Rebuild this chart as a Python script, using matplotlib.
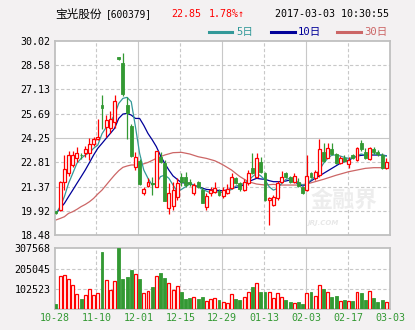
import numpy as np
import matplotlib
matplotlib.use("Agg")
import matplotlib.pyplot as plt
from matplotlib.lines import Line2D

plt.rcParams['font.family'] = ['DejaVu Sans Mono', 'Noto Sans CJK SC', 'DejaVu Sans']

# daily candles, 80 sessions from 10-28 to 03-03
opens = [19.90, 19.98, 21.66, 22.15, 22.65, 23.04, 23.26, 23.34, 23.34, 23.90,
         24.17, 26.20, 24.88, 24.82, 25.22, 29.05, 28.72, 26.20, 24.96, 22.55,
         22.90, 20.98, 21.42, 21.60, 21.36, 23.15, 22.79, 20.08, 20.20, 20.73,
         21.96, 21.96, 21.66, 20.97, 21.66, 21.16, 20.17, 20.97, 21.07, 21.12,
         20.83, 20.97, 21.26, 21.86, 21.60, 21.16, 21.56, 22.50, 21.96, 22.80,
         22.15, 20.57, 20.27, 20.67, 21.66, 22.15, 21.96, 21.66, 21.66, 21.36,
         21.16, 22.15, 21.86, 22.06, 23.40, 23.08, 23.60, 23.30, 22.75, 23.04,
         22.70, 23.24, 22.94, 23.93, 23.44, 22.98, 23.58, 23.44, 23.24, 22.45]
closes = [19.78, 21.66, 22.39, 23.24, 23.24, 23.34, 23.22, 23.58, 23.87, 24.17,
          24.33, 26.05, 25.32, 25.36, 26.44, 28.92, 26.86, 25.75, 23.20, 23.10,
          21.50, 21.20, 21.66, 21.52, 23.48, 22.85, 20.53, 20.97, 21.16, 21.56,
          21.66, 21.46, 21.52, 21.46, 21.33, 20.41, 20.80, 21.16, 21.26, 20.86,
          21.16, 21.20, 21.96, 21.56, 21.20, 21.66, 22.19, 22.20, 23.04, 22.25,
          20.57, 20.71, 20.77, 21.56, 21.96, 21.92, 21.66, 22.02, 21.40, 21.00,
          21.99, 21.96, 22.25, 23.60, 22.90, 23.67, 23.30, 22.75, 23.08, 22.90,
          22.94, 23.04, 23.64, 23.60, 23.04, 23.64, 23.44, 23.30, 22.45, 22.85]
highs = [19.95, 21.70, 23.24, 23.50, 23.48, 23.70, 23.34, 23.77, 24.23, 24.33,
         25.38, 26.80, 25.61, 25.85, 26.80, 29.06, 29.31, 26.70, 25.10, 23.44,
         23.00, 21.36, 21.86, 21.95, 23.50, 23.44, 22.95, 21.56, 21.66, 21.86,
         22.20, 22.25, 21.80, 21.60, 21.70, 21.36, 20.97, 21.36, 21.66, 21.20,
         21.36, 21.52, 22.20, 21.96, 21.66, 21.80, 22.35, 23.38, 23.38, 23.10,
         22.25, 20.77, 20.87, 21.70, 22.30, 22.25, 22.00, 22.20, 21.86, 21.40,
         23.24, 22.25, 22.35, 24.19, 23.93, 23.93, 23.93, 23.38, 23.18, 23.24,
         23.14, 23.30, 23.74, 24.13, 23.64, 23.74, 23.74, 23.54, 23.34, 23.04]
lows = [19.72, 19.95, 21.16, 22.00, 22.55, 22.85, 22.98, 23.14, 22.94, 23.77,
        24.13, 24.76, 24.33, 24.52, 24.82, 28.88, 26.74, 24.17, 23.15, 22.35,
        21.45, 20.85, 21.36, 20.85, 21.33, 22.75, 20.50, 19.72, 20.00, 20.57,
        21.40, 21.36, 21.40, 20.86, 21.30, 20.37, 19.98, 20.83, 20.97, 20.80,
        20.67, 20.93, 21.20, 21.52, 21.10, 21.10, 21.46, 22.10, 21.86, 22.15,
        20.50, 19.09, 20.21, 20.60, 21.60, 21.86, 21.60, 21.56, 21.36, 20.93,
        21.10, 21.90, 21.76, 21.96, 22.84, 23.04, 23.24, 22.70, 22.70, 22.84,
        22.50, 23.00, 22.90, 23.50, 23.00, 22.94, 23.30, 23.18, 22.39, 22.39]
volumes = [25000, 167000, 172000, 150000, 122000, 76000, 51000, 71000, 100000, 71000,
           83000, 289000, 147000, 96000, 142000, 307500, 152000, 162000, 198000, 177000,
           152000, 83000, 91000, 112000, 167000, 183000, 157000, 131000, 96000, 116000,
           86000, 51000, 56000, 60000, 51000, 61000, 41000, 51000, 54000, 46000,
           35000, 30000, 74000, 51000, 46000, 59000, 85000, 112000, 130000, 86000,
           86000, 86000, 54000, 81000, 59000, 46000, 35000, 29000, 35000, 25000,
           79000, 86000, 66000, 120000, 101000, 85000, 61000, 66000, 39000, 46000,
           39000, 41000, 85000, 81000, 46000, 90000, 56000, 35000, 46000, 34000]

ma5 = [19.78, 20.18, 20.77, 21.56, 22.15, 22.75, 23.04, 23.24, 23.38, 23.64,
       23.83, 24.50, 24.88, 25.22, 25.61, 26.30, 26.60, 26.66, 26.40, 24.92,
       23.34, 22.35, 21.86, 21.46, 21.56, 21.96, 22.05, 21.86, 21.46, 21.07,
       21.20, 21.36, 21.52, 21.46, 21.36, 21.20, 21.10, 21.00, 21.03, 21.07,
       21.00, 21.10, 21.20, 21.40, 21.46, 21.56, 21.72, 21.96, 22.15, 22.00,
       21.76, 21.36, 21.16, 21.26, 21.56, 21.80, 21.86, 21.80, 21.60, 21.46,
       21.52, 21.76, 21.96, 22.35, 22.75, 23.04, 23.24, 23.24, 23.18, 23.10,
       23.04, 23.08, 23.18, 23.30, 23.24, 23.24, 23.30, 23.30, 23.24, 23.18]
ma10 = [19.78, 20.08, 20.37, 20.77, 21.16, 21.56, 21.95, 22.35, 22.79, 23.24,
        23.64, 23.93, 24.23, 24.52, 24.82, 25.41, 25.67, 25.71, 25.61, 25.41,
        25.41, 25.00, 24.52, 24.15, 23.74, 23.20, 22.75, 22.35, 22.00, 21.80,
        21.60, 21.58, 21.56, 21.45, 21.36, 21.28, 21.20, 21.18, 21.16, 21.14,
        21.12, 21.18, 21.26, 21.32, 21.36, 21.50, 21.66, 21.76, 21.86, 21.82,
        21.80, 21.72, 21.66, 21.66, 21.66, 21.70, 21.76, 21.66, 21.52, 21.40,
        21.52, 21.70, 21.86, 22.00, 22.15, 22.30, 22.45, 22.60, 22.75, 22.85,
        22.94, 23.06, 23.18, 23.22, 23.24, 23.24, 23.24, 23.24, 23.24, 23.20]
ma30 = [19.39, 19.48, 19.58, 19.78, 19.88, 20.02, 20.18, 20.31, 20.47, 20.67,
        20.93, 21.16, 21.46, 21.76, 22.05, 22.31, 22.51, 22.59, 22.65, 22.65,
        22.65, 22.72, 22.80, 22.92, 23.04, 23.14, 23.24, 23.31, 23.38, 23.39,
        23.40, 23.35, 23.30, 23.22, 23.14, 23.09, 23.04, 22.97, 22.90, 22.78,
        22.65, 22.50, 22.35, 22.15, 21.96, 21.81, 21.66, 21.59, 21.52, 21.49,
        21.46, 21.48, 21.50, 21.48, 21.46, 21.46, 21.46, 21.46, 21.46, 21.49,
        21.52, 21.59, 21.66, 21.73, 21.80, 21.88, 21.96, 22.04, 22.11, 22.18,
        22.25, 22.30, 22.35, 22.40, 22.45, 22.47, 22.49, 22.49, 22.49, 22.49]

date_labels = ['10-28', '11-10', '12-01', '12-15', '12-29', '01-13', '02-03', '02-17', '03-03']
price_labels = ['18.48', '19.92', '21.37', '22.81', '24.25', '25.69', '27.13', '28.58', '30.02']
vol_labels = ['102523', '205045', '307568']

UP = '#ff0000'
DOWN = '#339933'
GRID = '#c8c8c8'
SPINE = '#c0c0c0'
BG = '#f3f1f2'

fig = plt.figure(figsize=(4.15, 3.30), dpi=100, facecolor=BG)
W, H = 415.0, 330.0

ax = fig.add_axes([54.5 / W, 1 - 235.3 / H, 335.5 / W, 194.6 / H])
axv = fig.add_axes([54.5 / W, 1 - 309 / H, 335.5 / W, 60.7 / H])

x = np.arange(len(closes))
o = np.array(opens)
c = np.array(closes)
hi = np.array(highs)
lo = np.array(lows)
up = c >= o
xlim = (-0.36, 79.9)
xt = np.linspace(xlim[0], xlim[1], 9)

for a in (ax, axv):
    a.set_facecolor('white')
    a.set_xlim(*xlim)
    for s in a.spines.values():
        s.set_color(SPINE)
        s.set_linewidth(1.3)
    for k, xv in enumerate(xt[1:-1], start=1):
        ls = '-' if k % 2 == 0 else (0, (3, 2))
        a.axvline(xv, color=GRID, lw=0.8, ls=ls, zorder=0)

# price panel
pmin, pmax = float(price_labels[0]), float(price_labels[-1])
ax.set_ylim(pmin, pmax)
pt = np.linspace(pmin, pmax, 9)
for k, yv in enumerate(pt[1:-1], start=1):
    ls = '-' if k == 4 else (0, (3, 2))
    ax.axhline(yv, color=GRID, lw=0.8, ls=ls, zorder=0)
ax.set_yticks(pt)
ax.set_yticklabels(price_labels)
ax.set_xticks([])
ax.tick_params(axis='y', length=0, pad=3, labelsize=7.2, colors='black')

# faint site watermark
ax.text(0.863, 0.18, '金融界', transform=ax.transAxes, fontsize=16, color='#ededed',
        fontweight='bold', ha='center', va='center', family=['Noto Sans CJK SC'], zorder=1)
ax.text(0.80, 0.065, 'JRJ.COM', transform=ax.transAxes, fontsize=5, color='#e8e8e8',
        fontweight='bold', style='italic', ha='center', va='center', family=['DejaVu Sans'], zorder=1)

ax.plot(x, ma30, color='#cc6666', lw=0.9, zorder=2)
ax.plot(x, ma10, color='#000099', lw=0.9, zorder=2)
ax.plot(x, ma5, color='#339999', lw=0.9, zorder=2)

bw = 0.7
body_lo = np.minimum(o, c)
body_h = np.maximum(np.abs(c - o), 0.03)
ax.vlines(x[up], lo[up], hi[up], color=UP, lw=0.9, zorder=3)
ax.vlines(x[~up], lo[~up], hi[~up], color=DOWN, lw=0.9, zorder=3)
ax.bar(x[up], body_h[up], bw, bottom=body_lo[up], facecolor='white', edgecolor=UP, lw=0.9, zorder=4)
ax.bar(x[~up], body_h[~up], bw, bottom=body_lo[~up], facecolor=DOWN, edgecolor=DOWN, lw=0.6, zorder=4)

# volume panel
v = np.array(volumes)
vmax = float(vol_labels[-1])
axv.set_ylim(0, vmax)
for yv in (float(vol_labels[0]), float(vol_labels[1])):
    axv.axhline(yv, color=GRID, lw=0.8, ls=(0, (3, 2)), zorder=0)
axv.bar(x[up], v[up], bw, facecolor='white', edgecolor=UP, lw=0.9, zorder=3)
axv.bar(x[~up], v[~up], bw, facecolor=DOWN, edgecolor=DOWN, lw=0.6, zorder=3)
axv.set_yticks([float(s) for s in vol_labels])
axv.set_yticklabels(vol_labels)
axv.set_xticks(xt)
axv.set_xticklabels(date_labels)
axv.tick_params(axis='y', length=0, pad=3, labelsize=7.2, colors='black')
axv.tick_params(axis='x', length=0, pad=3, labelsize=7.2, colors=DOWN)

# header
def px(xp, yp):
    return xp / W, 1 - yp / H

fig.text(*px(55, 14), '宝光股份', fontsize=8.4, va='center', ha='left', family=['Noto Sans CJK SC'])
fig.text(*px(106, 14), '[600379]', fontsize=6.9, va='center', ha='left')
fig.text(*px(171, 14), '22.85', fontsize=7.2, va='center', ha='left', color=UP)
fig.text(*px(209, 14), '1.78%↑', fontsize=7.2, va='center', ha='left', color=UP,
         family=['DejaVu Sans Mono', 'DejaVu Sans'])
fig.text(*px(389, 14), '2017-03-03 10:30:55', fontsize=7.2, va='center', ha='right')

legend = [('5日', '#339999', 209, 232, 236),
          ('10日', '#000099', 271, 295, 298),
          ('30日', '#cc6666', 337, 361, 364)]
for label, col, x0, x1, xtxt in legend:
    fig.lines.append(Line2D([x0 / W, x1 / W], [1 - 32 / H, 1 - 32 / H], color=col, lw=2.2,
                            transform=fig.transFigure))
    fig.text(*px(xtxt, 32), label, fontsize=7.6, va='center', ha='left', color=col,
             family=['DejaVu Sans Mono', 'Noto Sans CJK SC'])

fig.savefig('out.png', dpi=100, facecolor=BG)
